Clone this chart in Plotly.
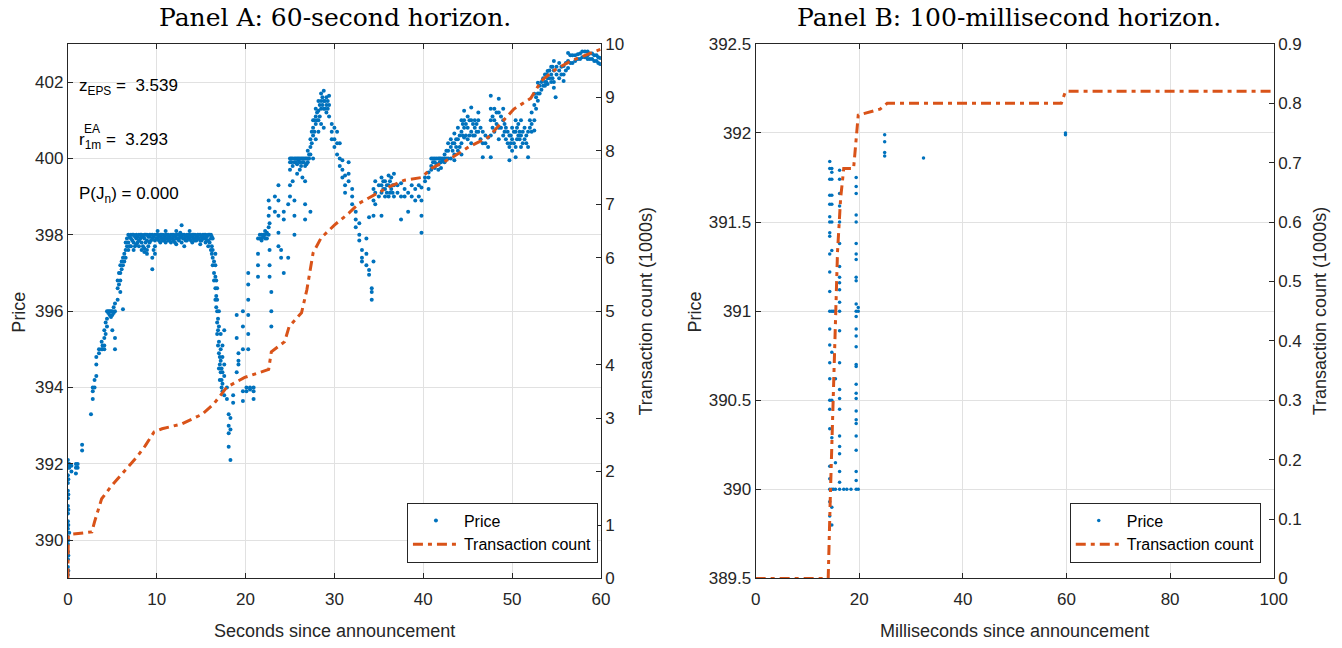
import plotly.graph_objects as go

# ---------------- Data ----------------
# Panel A: price observations (seconds, [prices at that time])
a_price_rows = [
    (0.0, [389.1, 389.3, 389.5, 389.7, 389.9, 390.1, 390.3, 390.5, 390.7, 390.9, 391.1, 391.3, 391.5, 391.7, 391.9, 392.1]),
    (0.15, [392.0, 391.9, 390.2]),
    (0.4, [391.95, 391.8]),
    (0.9, [392.0, 391.75, 391.9]),
    (1.1, [392.0, 391.9]),
    (1.6, [392.35, 392.5]),
    (2.6, [393.3]),
    (2.8, [393.7, 393.9, 394.0]),
    (3.0, [394.0, 394.2]),
    (3.2, [394.3, 394.6, 394.8]),
    (3.5, [394.9, 395.0]),
    (3.8, [395.0, 395.2]),
    (4.1, [395.0, 395.1, 395.3, 395.5]),
    (4.4, [395.6, 395.8, 396.0]),
    (4.7, [396.0, 395.9]),
    (5.0, [396.0, 395.9, 395.5]),
    (5.3, [396.0, 396.2, 395.0, 395.3]),
    (5.6, [396.3, 396.6, 396.8]),
    (5.9, [396.8, 397.0, 397.2, 396.5]),
    (6.2, [397.2, 397.4, 396.05]),
    (6.5, [397.4, 397.6, 397.8]),
    (6.8, [397.6, 397.8, 398.0]),
    (7.1, [397.9, 398.0, 397.7]),
    (7.4, [398.0, 397.8, 397.6]),
    (7.7, [398.0, 397.9, 397.75]),
    (8.0, [398.0, 397.85, 397.7]),
    (8.3, [398.0, 397.95, 397.8, 397.6]),
    (8.6, [398.0, 397.9, 397.65, 397.55]),
    (8.9, [398.0, 397.85, 397.6, 397.5]),
    (9.2, [398.0, 397.95, 397.8]),
    (9.5, [398.0, 397.9, 397.4, 397.1]),
    (9.8, [398.0, 397.85, 397.7, 397.5]),
    (10.1, [398.0, 397.9, 398.1]),
    (10.4, [398.0, 397.95, 397.8]),
    (10.7, [398.0, 397.9, 397.85]),
    (11.0, [398.0, 397.9, 397.8, 398.1]),
    (11.3, [398.0, 397.85, 397.95]),
    (11.6, [398.0, 397.9, 397.8]),
    (11.9, [398.0, 397.95, 397.85]),
    (12.2, [398.0, 397.9, 397.75, 398.1]),
    (12.5, [398.0, 397.85, 397.9]),
    (12.8, [398.0, 397.95, 398.25, 397.8]),
    (13.1, [398.0, 397.9, 397.7]),
    (13.4, [398.0, 397.85, 397.95]),
    (13.7, [398.0, 397.9, 398.1]),
    (14.0, [398.0, 397.95, 397.8]),
    (14.3, [398.0, 397.9, 397.85]),
    (14.6, [398.0, 397.95, 397.9]),
    (14.9, [398.0, 397.85, 397.75]),
    (15.2, [398.0, 397.9, 397.95]),
    (15.5, [398.0, 397.9, 397.8]),
    (15.8, [398.0, 397.85, 397.7]),
    (16.1, [398.0, 397.9, 397.6]),
    (16.3, [397.9, 397.6, 397.4, 397.2]),
    (16.6, [397.5, 397.2, 396.9, 396.6, 396.3]),
    (16.8, [396.6, 396.3, 396.0, 395.7, 395.4]),
    (17.0, [396.0, 395.6, 395.2, 394.9, 394.5]),
    (17.2, [395.4, 395.0, 394.7, 394.4]),
    (17.4, [395.1, 394.8, 394.4, 394.1, 393.9]),
    (17.6, [395.5, 394.6, 394.3, 393.8]),
    (17.9, [394.0, 393.7]),
    (18.1, [393.3, 393.0, 392.8, 392.45]),
    (18.3, [393.2, 392.9, 392.1]),
    (18.6, [393.8, 393.6]),
    (19.0, [395.9, 395.3, 394.4]),
    (19.2, [394.9, 394.7, 394.6]),
    (19.7, [396.0, 395.6, 395.0, 393.9, 393.65]),
    (20.1, [393.9, 394.0]),
    (20.3, [397.0, 396.7, 396.3, 395.9, 395.4, 395.0]),
    (20.5, [394.0, 393.95]),
    (20.9, [394.0, 393.7, 393.9]),
    (21.4, [397.9, 397.5, 397.2, 396.9]),
    (21.8, [398.0, 397.9, 397.85]),
    (22.2, [398.0, 398.1, 397.9]),
    (22.6, [398.0, 398.2, 398.9, 398.5]),
    (22.7, [398.7, 398.3, 397.6, 397.2, 396.9]),
    (22.9, [396.5, 396.0, 395.6]),
    (23.3, [399.0, 398.6]),
    (23.7, [399.3, 398.9, 398.5, 398.05, 397.7]),
    (24.0, [397.6, 397.4]),
    (24.3, [397.0, 398.6, 398.4]),
    (24.8, [397.4, 398.8]),
    (25.0, [400.0, 399.9, 399.7, 399.3, 399.0]),
    (25.3, [400.0, 399.8, 399.4]),
    (25.5, [400.0, 399.9, 398.9, 398.5, 398.0]),
    (25.8, [400.0, 399.85, 399.6]),
    (26.1, [400.0, 399.9, 399.7]),
    (26.4, [400.0, 399.9, 399.5]),
    (26.7, [400.0, 399.8, 399.4, 398.4, 398.8]),
    (27.0, [400.0, 399.9, 400.2]),
    (27.3, [400.1, 400.3, 400.5, 398.6]),
    (27.6, [400.6, 400.8, 401.0, 400.0]),
    (27.9, [400.9, 401.1, 401.3, 400.5]),
    (28.2, [401.0, 401.25, 401.5, 400.7]),
    (28.5, [401.3, 401.5, 401.7, 400.9]),
    (28.8, [401.5, 401.77, 401.3, 400.8]),
    (29.1, [401.6, 401.4, 401.2]),
    (29.4, [401.64, 401.1, 401.4]),
    (29.7, [400.9, 400.7, 400.5]),
    (30.0, [400.8, 400.5, 400.3]),
    (30.3, [400.7, 400.4, 400.1]),
    (30.6, [400.4, 400.0, 399.8]),
    (30.9, [399.95, 399.7, 399.5]),
    (31.2, [399.55, 399.3, 399.1]),
    (31.6, [399.9, 399.6, 399.4]),
    (32.0, [399.2, 399.0, 398.8]),
    (32.4, [398.6, 398.4, 398.2]),
    (32.8, [398.3, 398.0, 397.85]),
    (33.1, [397.6, 397.4, 397.3]),
    (33.6, [397.9, 397.5, 397.2]),
    (33.9, [397.08, 396.95, 398.46]),
    (34.2, [396.6, 396.5, 396.3]),
    (34.4, [399.2, 398.9, 398.5, 397.3]),
    (34.6, [399.4, 399.1, 398.8]),
    (35.0, [399.3, 399.0]),
    (35.3, [399.5, 399.3, 399.1, 398.5]),
    (35.7, [399.4, 399.2, 399.0]),
    (36.1, [399.55, 399.3, 399.0]),
    (36.4, [399.5, 399.2]),
    (36.7, [399.6, 399.3, 399.0]),
    (37.1, [399.3, 399.1]),
    (37.5, [399.35, 399.0, 398.4]),
    (37.9, [399.2, 399.0]),
    (38.3, [399.1, 398.6]),
    (38.7, [399.3, 399.0]),
    (39.1, [399.2, 398.9]),
    (39.5, [399.3, 399.0]),
    (39.8, [399.24, 398.9, 398.5, 398.05]),
    (40.2, [399.5, 399.4]),
    (40.6, [399.63, 399.5, 399.2]),
    (40.9, [400.0, 399.8, 399.7]),
    (41.3, [400.0, 399.9, 399.75]),
    (41.7, [400.0, 399.85, 399.7]),
    (42.0, [400.0, 399.9, 399.75]),
    (42.4, [400.1, 399.9, 400.0]),
    (42.8, [400.4, 400.2, 400.0]),
    (43.1, [400.5, 400.3, 400.0]),
    (43.5, [400.65, 400.4, 400.1, 399.95]),
    (43.9, [400.8, 400.5, 400.2]),
    (44.3, [401.0, 400.7, 400.4, 400.1]),
    (44.6, [401.25, 401.0, 400.8, 400.55]),
    (45.0, [401.1, 400.8, 400.5]),
    (45.4, [401.33, 401.0, 400.7, 400.4]),
    (45.8, [401.0, 400.8, 400.6]),
    (46.2, [401.2, 401.0, 400.7]),
    (46.7, [400.7, 400.4, 400.03]),
    (47.0, [400.6, 400.4]),
    (47.3, [400.55, 400.3]),
    (47.6, [401.64, 401.3, 401.0, 400.6, 400.03]),
    (48.0, [401.3, 401.0, 400.7]),
    (48.5, [401.56, 401.2, 400.8, 400.5]),
    (49.0, [401.3, 401.0, 400.6]),
    (49.3, [400.8, 400.5]),
    (49.7, [400.6, 400.3, 399.95]),
    (50.0, [400.8, 400.5, 400.2]),
    (50.4, [401.0, 400.7, 400.3, 400.03]),
    (50.7, [400.9, 400.6]),
    (51.0, [401.0, 400.6, 400.3]),
    (51.4, [400.8, 400.5]),
    (51.8, [400.7, 400.3, 400.03]),
    (52.2, [401.2, 400.9, 400.7]),
    (52.5, [401.69, 401.4, 401.0, 400.73]),
    (52.9, [401.98, 401.7, 401.51]),
    (53.3, [402.0, 401.8]),
    (53.7, [402.2, 402.0, 401.9]),
    (54.0, [402.29, 402.1, 401.95]),
    (54.4, [402.4, 402.2, 402.0]),
    (54.7, [402.55, 402.3, 402.0, 401.85]),
    (54.9, [401.6]),
    (55.3, [402.5, 402.3, 402.1]),
    (55.8, [402.42, 402.2, 402.03]),
    (56.3, [402.76, 402.55, 402.37]),
    (56.8, [402.7, 402.5]),
    (57.4, [402.73, 402.6]),
    (57.9, [402.8, 402.65]),
    (58.5, [402.8, 402.7, 402.6]),
    (59.0, [402.75, 402.6]),
    (59.5, [402.7, 402.55]),
    (59.9, [402.63, 402.47]),
]

# Panel A: further price observations in the densest bands
a_price_rows_dense = [
    (0.05, [389.2, 389.6, 390.0, 390.4, 390.8, 391.2, 391.6, 392.0]),
    (3.9, [395.0, 395.1]), (4.25, [395.4, 395.7]), (4.55, [396.0, 395.95]), (4.85, [396.0, 395.85]),
    (5.15, [395.95, 396.1]), (5.75, [396.7, 397.0]), (6.05, [397.1, 397.3]), (6.35, [397.5, 397.3]),
    (6.65, [397.7, 397.9]), (6.95, [397.95, 397.7]), (7.25, [398.0, 397.85]), (7.55, [397.95, 397.7]),
    (7.85, [397.95, 397.8]), (8.15, [398.0, 397.9]), (8.45, [397.95, 397.7]), (8.75, [398.0, 397.8]),
    (9.05, [397.95, 397.7]), (9.35, [398.0, 397.85]), (9.65, [397.95, 397.6]), (9.95, [398.0, 397.9]),
    (10.25, [397.95, 397.85]), (10.55, [398.0, 397.9]), (10.85, [397.95, 397.85]), (11.15, [398.0, 397.9]),
    (11.45, [397.95, 397.85]), (11.75, [398.0, 397.9]), (12.05, [397.95, 397.8]), (12.35, [398.0, 397.9]),
    (12.65, [397.95, 398.05]), (12.95, [398.0, 397.9]), (13.25, [397.95, 397.85]), (13.55, [398.0, 397.9]),
    (13.85, [397.95, 397.85]), (14.15, [398.0, 397.9]), (14.45, [397.95, 397.85]), (14.75, [398.0, 397.9]),
    (15.05, [397.95, 397.85]), (15.35, [398.0, 397.9]), (15.65, [397.95, 397.85]), (15.95, [398.0, 397.8]),
    (16.2, [397.95, 397.7, 397.5]), (16.45, [397.3, 397.0, 396.8]), (16.7, [396.8, 396.4, 396.1]),
    (16.9, [395.8, 395.5, 395.1]), (17.1, [394.8, 394.6, 394.2]), (17.3, [394.5, 394.2, 394.0]),
    (21.6, [398.0, 397.9]), (22.0, [398.0, 397.95]), (22.4, [398.05, 397.9]),
    (25.15, [400.0, 399.9]), (25.65, [400.0, 399.9]), (25.95, [400.0, 399.95]), (26.25, [400.0, 399.8]),
    (26.55, [400.0, 399.9]), (26.85, [400.0, 399.85]), (27.15, [400.0, 400.1]),
    (27.45, [400.4, 400.7]), (27.75, [400.7, 401.0]), (28.05, [401.0, 401.2]), (28.35, [401.4, 401.1]),
    (28.65, [401.6, 401.4]), (28.95, [401.5, 401.3]), (29.25, [401.3, 401.5]),
    (35.5, [399.4, 399.2]), (35.9, [399.3, 399.1]), (36.25, [399.4, 399.1]), (36.55, [399.3, 399.1]),
    (41.1, [400.0, 399.9]), (41.5, [400.0, 399.85]), (41.85, [400.0, 399.9]), (42.2, [400.0, 399.95]),
    (42.6, [400.2, 400.0]), (43.3, [400.4, 400.2]), (43.7, [400.5, 400.3]), (44.1, [400.6, 400.3]),
    (44.45, [400.9, 400.6]), (44.8, [400.9, 400.6]), (45.2, [401.0, 400.6]), (45.6, [400.9, 400.6]),
    (46.0, [400.9, 400.7]), (46.45, [400.8, 400.5]), (47.8, [401.1, 400.8]), (48.25, [401.2, 400.9]),
    (48.75, [401.1, 400.8]), (49.15, [400.9, 400.7]), (49.5, [400.7, 400.4]), (49.85, [400.6, 400.4]),
    (50.2, [400.7, 400.4]), (50.55, [400.8, 400.5]), (50.85, [400.7, 400.5]), (51.2, [400.7, 400.4]),
    (51.6, [400.6, 400.4]), (52.0, [401.0, 400.8]), (52.7, [401.6, 401.3]), (53.1, [401.9, 401.7]),
    (53.5, [402.1, 401.9]), (53.85, [402.2, 402.0]), (54.2, [402.3, 402.1]), (54.55, [402.4, 402.1]),
    (55.0, [402.4, 402.2]), (55.55, [402.4, 402.2]), (56.05, [402.5, 402.3]), (56.55, [402.7, 402.5]),
    (57.1, [402.7, 402.55]), (57.65, [402.75, 402.6]), (58.2, [402.8, 402.65]), (58.75, [402.75, 402.6]),
    (59.25, [402.7, 402.55]), (59.7, [402.65, 402.5]),
]

# Panel A: cumulative transaction count (thousands)
a_count_t = [0, 0.05, 0.5, 2.0, 2.7, 3.0, 3.5, 3.8, 4.9, 6.6, 7.75, 8.7, 9.7, 10.6, 12.8, 15.1, 16.4,
             17.9, 19.9, 22.6, 22.9, 24.4, 24.9, 26.3, 26.9, 27.6, 28.5, 30.0, 31.6, 32.8, 33.8, 36.1,
             37.9, 39.8, 40.9, 43.1, 45.1, 47.3, 50.2, 52.1, 53.3, 54.7, 56.6, 60.0]
a_count = [0, 0.80, 0.83, 0.85, 0.87, 1.06, 1.36, 1.49, 1.73, 2.05, 2.27, 2.48, 2.74, 2.80, 2.89, 3.07, 3.26,
           3.58, 3.76, 3.91, 4.24, 4.43, 4.71, 4.97, 5.40, 6.09, 6.37, 6.61, 6.83, 7.02, 7.11, 7.32,
           7.45, 7.50, 7.67, 7.86, 8.07, 8.25, 8.78, 8.98, 9.31, 9.50, 9.68, 9.90]

# Panel B: price observations (milliseconds, [prices])
b_price_rows = [
    (14.3, [391.84, 391.80, 391.74, 391.65, 391.60, 391.53, 391.50, 391.44, 391.42, 391.32, 391.22, 391.11,
            391.0, 390.90, 390.81, 390.71, 390.62, 390.50, 390.45, 390.34, 390.13, 390.06, 390.0, 389.93, 389.85]),
    (14.7, [391.80, 391.78, 391.74, 391.65, 391.60, 391.50, 391.34, 391.0, 390.77, 390.50, 390.29, 390.0,
            389.80, 389.90]),
    (15.0, [391.0, 390.0]),
    (15.4, [391.0, 390.0, 390.62, 390.15]),
    (16.2, [391.79, 391.74, 391.66, 391.59, 391.50, 391.38, 391.25, 391.19, 391.16, 391.12, 391.05, 391.0,
            390.89, 390.71, 390.56, 390.51, 390.45, 390.30, 390.24, 390.20, 390.10, 390.04, 390.0]),
    (17.0, [390.0]),
    (17.6, [390.0]),
    (18.4, [390.0]),
    (19.4, [391.75, 391.70, 391.66, 391.54, 391.50, 391.38, 391.32, 391.29, 391.19, 391.17, 391.04, 391.0,
            390.97, 390.90, 390.86, 390.80, 390.70, 390.69, 390.59, 390.54, 390.51, 390.44, 390.39, 390.37,
            390.30, 390.22, 390.10, 390.05, 390.0]),
    (19.8, [391.02, 391.0, 390.0]),
    (24.9, [391.99, 391.95, 391.89, 391.87]),
    (32.4, [391.86]),
    (59.8, [391.99, 392.0]),
]

# Panel B: cumulative transaction count (thousands)
b_count_t = [0, 14.0, 14.4, 15.4, 15.8, 16.4, 17.0, 18.9, 19.8, 24.0, 25.4, 59.0, 59.8, 100]
b_count = [0, 0, 0.134, 0.44, 0.55, 0.64, 0.69, 0.69, 0.78, 0.79, 0.80, 0.80, 0.82, 0.82]

a_ticks_x = [0, 10, 20, 30, 40, 50, 60]
a_ticks_price = [390, 392, 394, 396, 398, 400, 402]
a_ticks_count = [0, 1, 2, 3, 4, 5, 6, 7, 8, 9, 10]
b_ticks_x = [0, 20, 40, 60, 80, 100]
b_ticks_price = [389.5, 390, 390.5, 391, 391.5, 392, 392.5]
b_ticks_price_text = ["389.5", "390", "390.5", "391", "391.5", "392", "392.5"]
b_ticks_count = [0, 0.1, 0.2, 0.3, 0.4, 0.5, 0.6, 0.7, 0.8, 0.9]
b_ticks_count_text = ["0", "0.1", "0.2", "0.3", "0.4", "0.5", "0.6", "0.7", "0.8", "0.9"]


def flatten(rows):
    xs, ys = [], []
    for t, ps in rows:
        for p in ps:
            xs.append(t)
            ys.append(p)
    return xs, ys


a_px, a_py = flatten(sorted(a_price_rows + a_price_rows_dense, key=lambda r: r[0]))
b_px, b_py = flatten(b_price_rows)

BLUE = "#0072BD"
ORANGE = "#D95319"
AX = "#262626"
GRID = "#e1e1e1"
SANS = "Liberation Sans, Arial, sans-serif"
SERIF = "DejaVu Serif, serif"

W, H = 1342, 648
# Measured placement of the drawing area in the photographed page:
# page_x = OX + SX * figure_x, page_y = OY + SY * figure_y
SX, OX = 0.9876, 3.0
SY, OY = 0.975, 8.0


def fx(px):
    return ((px - OX) / SX) / W


def fy(py):
    return 1 - ((py - OY) / SY) / H


fig = go.Figure()

fig.add_trace(go.Scatter(x=a_px, y=a_py, mode="markers", name="Price",
                         marker=dict(color=BLUE, size=4, line=dict(width=0)),
                         xaxis="x", yaxis="y", legend="legend"))
fig.add_trace(go.Scatter(x=a_count_t, y=a_count, mode="lines", name="Transaction count",
                         line=dict(color=ORANGE, width=3, dash="10px,5px,4px,5px"),
                         xaxis="x", yaxis="y2", legend="legend"))
fig.add_trace(go.Scatter(x=b_px, y=b_py, mode="markers", name="Price",
                         marker=dict(color=BLUE, size=3.5, line=dict(width=0)),
                         xaxis="x2", yaxis="y3", legend="legend2"))
fig.add_trace(go.Scatter(x=b_count_t, y=b_count, mode="lines", name="Transaction count",
                         line=dict(color=ORANGE, width=3, dash="10px,5px,4px,5px"),
                         xaxis="x2", yaxis="y4", legend="legend2"))

tickfont = dict(family=SANS, size=17, color=AX)
common_x = dict(showline=True, linecolor=AX, linewidth=1, mirror="ticks", ticks="inside",
                ticklen=5, tickcolor=AX, showgrid=True, gridcolor=GRID, zeroline=False,
                tickfont=tickfont, ticklabelstandoff=5)
common_yl = dict(showline=True, linecolor=AX, linewidth=1, ticks="inside", ticklen=5,
                 tickcolor=AX, showgrid=True, gridcolor=GRID, zeroline=False, tickfont=tickfont)
common_yr = dict(showline=True, linecolor=AX, linewidth=1, ticks="inside", ticklen=5,
                 tickcolor=AX, showgrid=False, zeroline=False, tickfont=tickfont, side="right")

ydom = [fy(580), fy(43)]

legend_style = dict(xanchor="right", y=fy(564), yanchor="bottom", bgcolor="white",
                    bordercolor=AX, borderwidth=1, itemwidth=46,
                    font=dict(family=SANS, size=16, color="black"))

fig.update_layout(
    width=W, height=H,
    margin=dict(l=0, r=0, t=0, b=0),
    paper_bgcolor="white", plot_bgcolor="white",
    xaxis=dict(domain=[fx(66), fx(600)], range=[0, 60], tickvals=a_ticks_x, anchor="y", **common_x),
    yaxis=dict(domain=ydom, range=[389, 403], tickvals=a_ticks_price, anchor="x", **common_yl),
    yaxis2=dict(overlaying="y", anchor="x", range=[0, 10], tickvals=a_ticks_count, **common_yr),
    xaxis2=dict(domain=[fx(755), fx(1274)], range=[0, 100], tickvals=b_ticks_x, anchor="y3", **common_x),
    yaxis3=dict(domain=ydom, range=[389.5, 392.5], tickvals=b_ticks_price, ticktext=b_ticks_price_text,
                anchor="x2", **common_yl),
    yaxis4=dict(overlaying="y3", anchor="x2", range=[0, 0.9], tickvals=b_ticks_count,
                ticktext=b_ticks_count_text, **common_yr),
    legend=dict(x=fx(597), **legend_style),
    legend2=dict(x=fx(1261), **legend_style),
)


def note(text, x, y, size=17, family=SANS, color="black", xanchor="center", angle=0):
    return dict(text=text, x=fx(x), y=fy(y), xref="paper", yref="paper", xanchor=xanchor,
                yanchor="middle", textangle=angle, showarrow=False,
                font=dict(family=family, size=size, color=color))


ann = [
    # Titles
    note("Panel A: 60-second horizon.", 334, 17, size=25, family=SERIF),
    note("Panel B: 100-millisecond horizon.", 1009, 17, size=25, family=SERIF),
    # Axis titles
    note("Seconds since announcement", 333, 633, size=18, color=AX),
    note("Milliseconds since announcement", 1014, 633, size=18, color=AX),
    note("Price", 17, 312, size=18, color=AX, angle=-90),
    note("Price", 694, 312, size=18, color=AX, angle=-90),
    note("Transaction count (1000s)", 645, 312, size=18, color=AX, angle=-90),
    note("Transaction count (1000s)", 1320, 312, size=18, color=AX, angle=-90),
    # Statistics in panel A
    note("z<sub>EPS</sub> =  3.539", 75, 86, xanchor="left"),
    note("r<sub>1m</sub> =  3.293", 75, 141, xanchor="left"),
    note("EA", 80, 129, size=12, xanchor="left"),
    note("P(J<sub>n</sub>) = 0.000", 75, 195, xanchor="left"),
]

fig.update_layout(annotations=ann)

fig.write_html("out.html")
